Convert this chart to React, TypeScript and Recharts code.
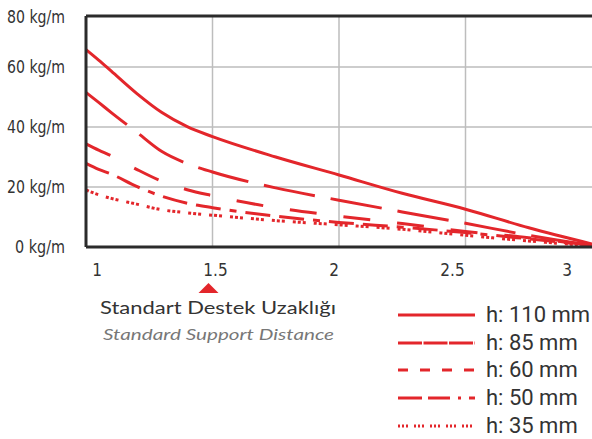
import React from 'react';
import {
  LineChart,
  Line,
  XAxis,
  YAxis,
  CartesianGrid,
  ReferenceLine,
  Legend,
} from 'recharts';

const distances = [1, 1.05, 1.1, 1.2, 1.3, 1.4, 1.5, 1.75, 2, 2.25, 2.5, 2.75, 3];
const h110 = [65.8, 62.3, 58.6, 51.2, 44.8, 40.1, 36.8, 30, 24, 17.9, 12.6, 6.4, 1];
const h85 = [51.5, 48.2, 44.8, 38.3, 31.8, 27.8, 25.0, 19.7, 15.6, 11.7, 7.9, 3.9, 0.5];
const h60 = [34.4, 32.3, 30.4, 25.9, 21.9, 19.1, 17.1, 13.1, 10.3, 7.8, 5.2, 3.1, 0.5];
const h50 = [27.9, 25.9, 24.3, 20.2, 16.9, 14.6, 13.1, 10.3, 8.2, 6.6, 4.8, 2.7, 0.5];
const h35 = [19, 17.4, 16.2, 14.3, 12.4, 11.4, 10.6, 8.8, 7.4, 5.9, 3.9, 2.0, 0.4];

const xTicks = [1, 1.5, 2, 2.5, 3];
const yTicks = [0, 20, 40, 60, 80];
const yTop = 77; // where the frame top sits on the value scale

const RED = '#e3262b';
const TICK_FONT = '"Liberation Sans Narrow", "DejaVu Sans Condensed", Roboto, sans-serif';

const series = [
  { key: 'h110', name: 'h: 110 mm', dash: undefined, legendDash: undefined },
  { key: 'h85', name: 'h: 85 mm', dash: '52 16', legendDash: '24 1.5' },
  { key: 'h60', name: 'h: 60 mm', dash: '27 27', legendDash: '10 12' },
  { key: 'h50', name: 'h: 50 mm', dash: '25 9 25 9 7 9', legendDash: '24 6 22 8 3 8' },
  { key: 'h35', name: 'h: 35 mm', dash: '3 2 3 2 3 8', legendDash: '2 2 2 2 2 6' },
];

const data = distances.map((d, i) => ({
  d,
  h110: h110[i],
  h85: h85[i],
  h60: h60[i],
  h50: h50[i],
  h35: h35[i],
}));

const XTick = (props: any) => {
  const { x, y, payload } = props;
  // labels drift left of the gridlines in the original artwork
  const dx = 11 - 16 * (payload.value - 1);
  return (
    <text x={x + dx} y={y + 21} textAnchor="middle" fontSize={17} fill="#333" fontFamily={TICK_FONT}>
      {payload.value}
    </text>
  );
};

const YTick = (props: any) => {
  const { y, payload } = props;
  const yy = Math.max(y, 17);
  const label = `${payload.value} kg/m`;
  const width = 42 + 8 * String(payload.value).length;
  return (
    <text
      x={65}
      y={yy + 6}
      textAnchor="end"
      fontSize={17}
      fill="#333"
      fontFamily={TICK_FONT}
      textLength={width}
      lengthAdjust="spacingAndGlyphs"
    >
      {label}
    </text>
  );
};

const LegendContent = () => (
  <div style={{ fontFamily: 'Roboto, sans-serif' }}>
    {series.map((s) => (
      <div key={s.key} style={{ display: 'flex', alignItems: 'center', height: 27.7 }}>
        <svg width={80} height={10} style={{ marginRight: 8 }}>
          <line x1={0} y1={5} x2={77} y2={5} stroke={RED} strokeWidth={3} strokeDasharray={s.legendDash} />
        </svg>
        <span style={{ fontSize: 22, color: '#333', lineHeight: '22px' }}>{s.name}</span>
      </div>
    ))}
  </div>
);

export default function App() {
  return (
    <div style={{ position: 'relative', width: 592, height: 439, background: '#fff' }}>
      <style>{`body{margin:0}`}</style>
      <LineChart width={592} height={439} data={data} margin={{ top: 16, right: 0, bottom: 162, left: 0 }}>
        <CartesianGrid stroke="#bdbdbd" strokeWidth={1.5} horizontalValues={[20, 40, 60]} verticalValues={[1.5, 2, 2.5]} />
        <XAxis
          dataKey="d"
          type="number"
          domain={[1, 3]}
          ticks={xTicks}
          tick={<XTick />}
          tickLine={false}
          axisLine={{ stroke: '#2b2b2b', strokeWidth: 3 }}
          height={30}
        />
        <YAxis
          type="number"
          domain={[0, yTop]}
          ticks={yTicks}
          allowDataOverflow
          tick={<YTick />}
          tickLine={false}
          axisLine={{ stroke: '#2b2b2b', strokeWidth: 3 }}
          width={86}
        />
        <ReferenceLine y={yTop} stroke="#2b2b2b" strokeWidth={3} />
        {series.map((s) => (
          <Line
            key={s.key}
            dataKey={s.key}
            name={s.name}
            type="monotone"
            stroke={RED}
            strokeWidth={3}
            strokeDasharray={s.dash}
            dot={false}
            isAnimationActive={false}
          />
        ))}
        <Legend
          layout="vertical"
          align="center"
          verticalAlign="middle"
          content={<LegendContent />}
          wrapperStyle={{ position: 'absolute', left: 398, top: 301, width: 194 }}
        />
      </LineChart>
      <svg width={300} height={70} style={{ position: 'absolute', left: 68, top: 280 }}>
        <polygon points="140.5,3 150.5,13 130.5,13" fill={RED} />
        <text x={32} y={34} fontSize={18} fill="#333" fontFamily="Lato, sans-serif" textLength={236} lengthAdjust="spacingAndGlyphs">
          Standart Destek Uzaklığı
        </text>
        <text x={35} y={60} fontSize={16} fill="#777" fontStyle="italic" fontFamily="Lato, sans-serif" textLength={231} lengthAdjust="spacingAndGlyphs">
          Standard Support Distance
        </text>
      </svg>
    </div>
  );
}
